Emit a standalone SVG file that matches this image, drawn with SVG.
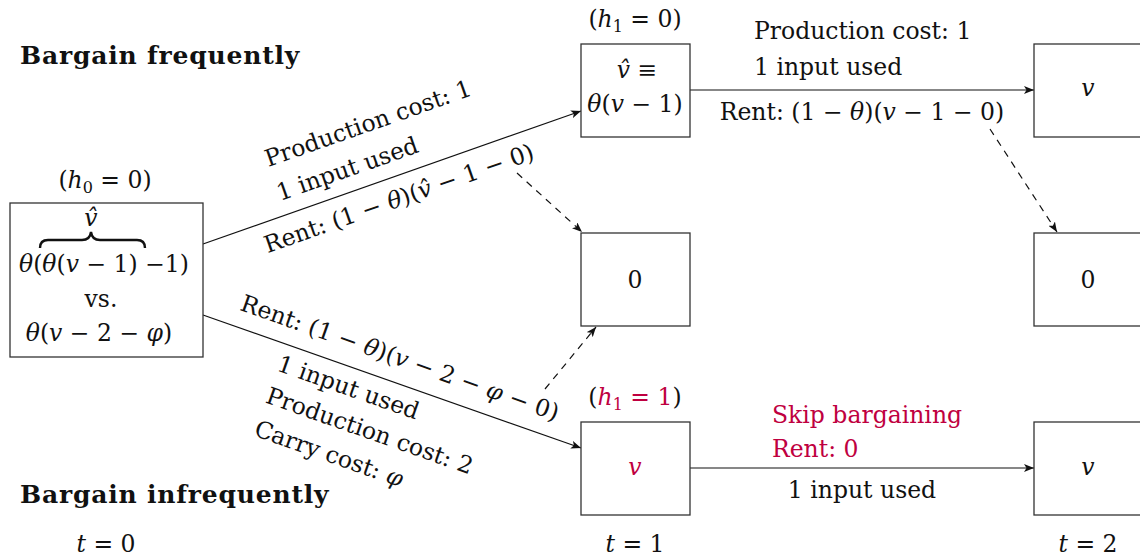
<svg xmlns="http://www.w3.org/2000/svg" width="1140" height="559" viewBox="0 0 1140 559">
<style>
text{font-family:"DejaVu Serif","Liberation Serif",serif;font-size:23.5px;fill:#111}
.i{font-style:italic}
.b{font-weight:bold;font-size:25px;letter-spacing:0.8px}
.c{fill:#bf0040}
.sub{font-size:16px}
.box{fill:#fff;stroke:#333;stroke-width:1.3}
.edge{fill:none;stroke:#111;stroke-width:1.2}
.dash{stroke-dasharray:7 6}
.mid{text-anchor:middle}
</style>
<defs>
<marker id="arr" viewBox="0 0 10 8" refX="10" refY="4" markerWidth="10" markerHeight="8" markerUnits="userSpaceOnUse" orient="auto">
<path d="M0,0 L10,4 L0,8 L2.5,4 Z" fill="#111"/>
</marker>
</defs>
<rect width="1140" height="559" fill="#fff"/>

<g id="titles">
<text class="b" x="20" y="64">Bargain frequently</text>
<text class="b" x="20" y="503">Bargain infrequently</text>
<text class="mid" x="106" y="552"><tspan class="i">t</tspan> = 0</text>
<text class="mid" x="635" y="552"><tspan class="i">t</tspan> = 1</text>
<text class="mid" x="1088" y="552"><tspan class="i">t</tspan> = 2</text>
</g>

<g id="connectors">
<path class="edge" d="M203,244 L581,111" marker-end="url(#arr)"/>
<path class="edge" d="M203,315 L581,448" marker-end="url(#arr)"/>
<path class="edge" d="M690,90 L1034,90" marker-end="url(#arr)"/>
<path class="edge" d="M690,468 L1034,468" marker-end="url(#arr)"/>
<path class="edge dash" d="M517,173 L582,232" marker-end="url(#arr)"/>
<path class="edge dash" d="M545,389 L596,327" marker-end="url(#arr)"/>
<path class="edge dash" d="M990,129 L1057,232" marker-end="url(#arr)"/>
<g transform="translate(203,244) rotate(-19.38)">
<text x="87" y="-51">Production cost: 1</text>
<text x="87" y="-15">1 input used</text>
<text class="mid" x="200" y="30">Rent: (1 − <tspan class="i">θ</tspan>)(<tspan class="i">v̂</tspan> − 1 − 0)</text>
</g>
<g transform="translate(203,315) rotate(19.38)">
<text class="mid" x="200" y="-17">Rent: (1 − <tspan class="i">θ</tspan>)(<tspan class="i">v</tspan> − 2 − <tspan class="i">φ</tspan> − 0)</text>
<text x="87" y="28">1 input used</text>
<text x="87" y="62">Production cost: 2</text>
<text x="87" y="97">Carry cost: <tspan class="i">φ</tspan></text>
</g>
<text x="754" y="39">Production cost: 1</text>
<text x="754" y="75">1 input used</text>
<text class="mid" x="862" y="120">Rent: (1 − <tspan class="i">θ</tspan>)(<tspan class="i">v</tspan> − 1 − 0)</text>
<text class="c" x="772" y="423">Skip bargaining</text>
<text class="c" x="772" y="457">Rent: 0</text>
<text class="mid" x="862" y="498">1 input used</text>
</g>

<g id="n0">
<text class="mid" x="105" y="188">(<tspan class="i">h</tspan><tspan class="sub" dy="5">0</tspan><tspan dy="-5"> = 0)</tspan></text>
<rect class="box" x="10" y="203" width="193" height="154"/>
<text class="i mid" x="91" y="226" font-size="17">v̂</text>
<path d="M40,248 Q40,240 48,240 L82,240 Q90,240 91,232 Q92,240 100,240 L137,240 Q145,240 145,248" fill="none" stroke="#111" stroke-width="2.4"/>
<text class="mid" x="104" y="272"><tspan class="i">θ</tspan>(<tspan class="i">θ</tspan>(<tspan class="i">v</tspan> − 1) −1)</text>
<text class="mid" x="101" y="307">vs.</text>
<text class="mid" x="99" y="341"><tspan class="i">θ</tspan>(<tspan class="i">v</tspan> − 2 − <tspan class="i">φ</tspan>)</text>
</g>

<g id="n1a">
<text class="mid" x="635" y="27">(<tspan class="i">h</tspan><tspan class="sub" dy="5">1</tspan><tspan dy="-5"> = 0)</tspan></text>
<rect class="box" x="581" y="44" width="109" height="93"/>
<text class="mid" x="637" y="78"><tspan class="i">v̂</tspan> ≡</text>
<text class="mid" x="635" y="112"><tspan class="i">θ</tspan>(<tspan class="i">v</tspan> − 1)</text>
</g>

<g id="n1b">
<rect class="box" x="581" y="233" width="109" height="93"/>
<text class="mid" x="635" y="288">0</text>
</g>

<g id="n1c">
<text class="mid" x="635" y="405">(<tspan class="i c">h</tspan><tspan class="sub c" dy="5">1</tspan><tspan class="c" dy="-5"> = 1</tspan>)</text>
<rect class="box" x="581" y="422" width="109" height="93"/>
<text class="mid i c" x="635" y="475">v</text>
</g>

<g id="n2a">
<rect class="box" x="1034" y="44" width="120" height="93"/>
<text class="mid i" x="1088" y="96">v</text>
</g>

<g id="n2b">
<rect class="box" x="1034" y="233" width="120" height="93"/>
<text class="mid" x="1088" y="288">0</text>
</g>

<g id="n2c">
<rect class="box" x="1034" y="422" width="120" height="93"/>
<text class="mid i" x="1088" y="475">v</text>
</g>
</svg>
